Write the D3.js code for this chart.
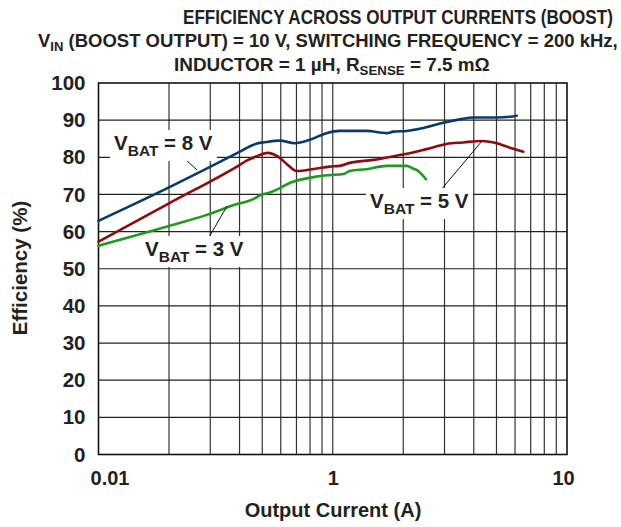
<!DOCTYPE html>
<html><head><meta charset="utf-8">
<script src="https://cdn.jsdelivr.net/npm/d3@7/dist/d3.min.js"></script>
<style>
html,body{margin:0;padding:0;background:#fff;}
svg{display:block;font-family:"Liberation Sans",Arial,Helvetica,sans-serif;font-weight:bold;}
</style></head>
<body><svg id="c" width="621" height="527"></svg>
<script>
// ---- data ----
const xTickValues = [0.1, 1, 10];
const xTickLabels = ["0.01", "1", "10"];
const yTickValues = [0,10,20,30,40,50,60,70,80,90,100];

const currentVbat8 = [0.1,0.2,0.39,0.449,0.48,0.504,0.594,0.688,0.797,0.94,1.07,1.39,1.70,1.81,2.07,2.40,2.87,3.49,3.98,5.01,5.70,6.10];
const effVbat8     = [62.9,71.9,81.1,83.1,83.8,84.0,84.5,83.8,84.7,86.5,87.1,87.1,86.5,86.9,87.1,87.8,89.1,90.2,90.7,90.7,90.9,91.2];

const currentVbat5 = [0.1,0.2,0.39,0.435,0.47,0.529,0.584,0.644,0.70,0.852,0.971,1.07,1.18,1.49,1.93,2.13,2.51,3.06,3.60,4.32,4.92,5.70,6.51];
const effVbat5     = [57.3,67.6,77.5,79.3,80.2,81.2,80.2,77.9,76.3,77.0,77.5,77.7,78.5,79.3,80.6,81.1,82.2,83.6,84.0,84.4,83.9,82.6,81.5];

const currentVbat3 = [0.1,0.2,0.29,0.39,0.449,0.496,0.538,0.676,0.852,0.971,1.11,1.18,1.39,1.70,2.07,2.20,2.28,2.50];
const effVbat3     = [56.2,61.5,64.5,67.4,68.5,69.9,70.5,73.4,74.8,75.2,75.5,76.3,76.8,77.7,77.7,77.0,76.6,74.1];

const seriesNames  = ["8", "5", "3"];
const seriesColors = ["#0b3a6a", "#8e0c0c", "#1f9a1f"];

// ---- layout ----
const svg = d3.select("#c");
const L = 98.5, R = 567, T = 83, B = 454.5;
const x = d3.scaleLog().domain([0.1, 10]).range([L, R]);
const y = d3.scaleLinear().domain([0, 100]).range([B, T]);

// gridlines
const minorX = [];
for (let d = 0.1; d < 10; d *= 10) for (let k = 1; k < 10; k++) minorX.push(+(d*k).toFixed(3));
svg.append("g").selectAll("line").data(minorX.filter(v=>v>0.1)).join("line")
  .attr("x1", d=>x(d)).attr("x2", d=>x(d)).attr("y1", T).attr("y2", B)
  .attr("stroke", "#333").attr("stroke-width", 1.2);
svg.append("g").selectAll("line").data(yTickValues.filter(v=>v>0&&v<100)).join("line")
  .attr("x1", L).attr("x2", R).attr("y1", d=>y(d)).attr("y2", d=>y(d))
  .attr("stroke", "#222").attr("stroke-width", 1.2);
svg.append("rect").attr("x", L).attr("y", T).attr("width", R-L).attr("height", B-T)
  .attr("fill", "none").attr("stroke", "#111").attr("stroke-width", 1.6);

// axes
const xAxis = d3.axisBottom(x).tickValues(xTickValues)
  .tickFormat((d,i)=>xTickLabels[i]).tickSize(0).tickPadding(16);
const gx = svg.append("g").attr("transform", `translate(0,${B})`).call(xAxis);
gx.select(".domain").remove();
gx.selectAll("text").attr("font-size", 20).attr("font-family", "inherit").attr("font-weight", "bold")
  .attr("fill", "#222").attr("dx", (d,i)=> i===0 ? 11 : (i===2 ? -4 : 0));

const yAxis = d3.axisLeft(y).tickValues(yTickValues).tickSize(0).tickPadding(13);
const gy = svg.append("g").attr("transform", `translate(${L},0)`).call(yAxis);
gy.select(".domain").remove();
gy.selectAll("text").attr("font-size", 20.5).attr("font-family", "inherit").attr("font-weight", "bold")
  .attr("fill", "#222");

// series
const allSeries = [
  {x: currentVbat8, y: effVbat8},
  {x: currentVbat5, y: effVbat5},
  {x: currentVbat3, y: effVbat3}
];
const line = d3.line().x(d=>x(d[0])).y(d=>y(d[1])).curve(d3.curveMonotoneX);
allSeries.forEach((s,i)=>{
  svg.append("path").datum(s.x.map((v,j)=>[v, s.y[j]]))
    .attr("d", line).attr("fill", "none").attr("stroke", seriesColors[i])
    .attr("stroke-width", 2.6).attr("stroke-linejoin", "round").attr("stroke-linecap", "round");
});

// annotations
function label(name, tx, ty, lx1, ly1, lx2, ly2) {
  svg.append("line").attr("x1", lx1).attr("y1", ly1).attr("x2", lx2).attr("y2", ly2)
    .attr("stroke", "#111").attr("stroke-width", 1);
  const g = svg.append("g");
  const t = g.append("text").attr("x", tx).attr("y", ty).attr("font-size", 20.5).attr("fill", "#222");
  t.append("tspan").text("V");
  t.append("tspan").attr("dy", 6).attr("font-size", 15.5).text("BAT");
  t.append("tspan").attr("dy", -6).text(" = " + name + " V");
  const bb = t.node().getBBox();
  g.insert("rect", "text").attr("x", bb.x-4).attr("y", bb.y-1).attr("width", bb.width+8).attr("height", bb.height+3)
    .attr("fill", "#fff");
}
label(seriesNames[0], 114, 150, 175, 150, 197, 170);
label(seriesNames[1], 370, 208, 440, 191, 482, 141);
label(seriesNames[2], 145, 256, 208, 239, 227, 206);

// titles
function fitText(sel, x0, width) {
  const w = sel.node().getComputedTextLength();
  const s = width / w;
  sel.attr("transform", `translate(${x0},0) scale(${s},1) translate(${-x0},0)`);
}
const t1 = svg.append("text").attr("x", 183).attr("y", 24)
  .attr("font-size", 19.5).attr("fill", "#222").text("EFFICIENCY ACROSS OUTPUT CURRENTS (BOOST)");
fitText(t1, 183, 430);
const t2 = svg.append("text").attr("x", 38).attr("y", 47)
  .attr("font-size", 18.5).attr("fill", "#222");
t2.append("tspan").text("V");
t2.append("tspan").attr("dy", 4).attr("font-size", 13).text("IN");
t2.append("tspan").attr("dy", -4).text(" (BOOST OUTPUT) = 10 V, SWITCHING FREQUENCY = 200 kHz,");
fitText(t2, 38, 580);
const t3 = svg.append("text").attr("x", 174).attr("y", 71)
  .attr("font-size", 18.5).attr("fill", "#222");
t3.append("tspan").text("INDUCTOR = 1 µH, R");
t3.append("tspan").attr("dy", 4).attr("font-size", 13).text("SENSE");
t3.append("tspan").attr("dy", -4).text(" = 7.5 mΩ");
fitText(t3, 174, 316);

svg.append("text").attr("transform", "translate(27,268) rotate(-90)").attr("text-anchor", "middle")
  .attr("font-size", 20.5).attr("fill", "#222").text("Efficiency (%)");
svg.append("text").attr("x", 333).attr("y", 517).attr("text-anchor", "middle")
  .attr("font-size", 20).attr("fill", "#222").text("Output Current (A)");
</script></body></html>
